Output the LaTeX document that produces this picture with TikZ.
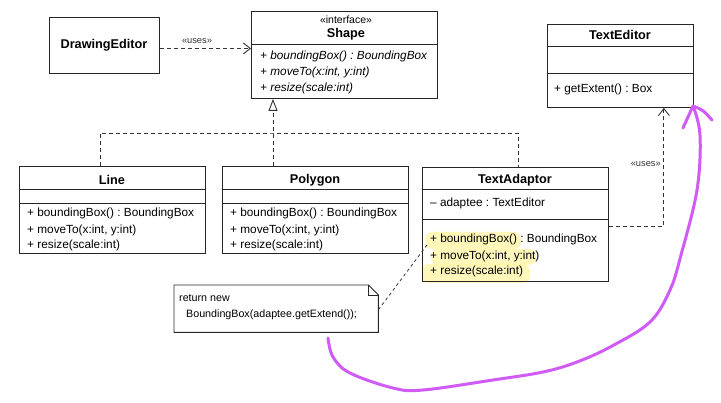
\documentclass[tikz,border=0pt]{standalone}
\usepackage{fontspec}
\setmainfont{Liberation Sans}
\usetikzlibrary{arrows.meta,calc}
\definecolor{pen}{RGB}{208,92,245}
\definecolor{hilite}{RGB}{255,244,150}
\frenchspacing
\tikzset{
  box/.style={draw=black!85, line width=0.9pt, inner sep=0pt, anchor=north west},
  sep/.style={draw=black!85, line width=0.9pt},
  ttl/.style={font=\fontsize{12.7}{14}\selectfont\bfseries, inner sep=0pt},
  mth/.style={font=\fontsize{11.8}{13}\selectfont, anchor=west, inner sep=0pt},
  imth/.style={mth, font=\fontsize{11.8}{13}\selectfont\itshape},
  stereo/.style={font=\fontsize{10.5}{12}\selectfont, inner sep=0pt},
  useslbl/.style={font=\fontsize{9.3}{11}\selectfont, inner sep=0pt, text=black!80},
  notetxt/.style={font=\fontsize{10.7}{12}\selectfont, anchor=west, inner sep=0pt},
  uses/.style={draw=black!80, line width=0.9pt, dash pattern=on 4pt off 3pt, -{Straight Barb[length=7pt,width=11pt,line width=0.9pt]}},
  realize/.style={draw=black!80, line width=0.9pt, dash pattern=on 4pt off 3pt},
  notelink/.style={draw=black!80, line width=0.8pt, dash pattern=on 3pt off 3pt},
  hl/.style={fill=hilite, fill opacity=0.65, draw=none, rounded corners=7pt},
  scribble/.style={draw=pen, line width=3pt, line cap=round, line join=round}
}
\begin{document}
\begin{tikzpicture}[x=1pt,y=-1pt]
\useasboundingbox[fill=white] (0,0) rectangle (721,403);

% highlights
\fill[hl] (425,232) rectangle (521,249);
\fill[hl] (431,249) rectangle (536,265);
\fill[hl] (422,264) rectangle (530,283);

% DrawingEditor
\node[box, minimum width=110pt, minimum height=56pt] (de) at (49,17) {};
\node[ttl] (deT) at (104,45) {DrawingEditor};

% Shape
\node[box, minimum width=186pt, minimum height=87pt] (shape) at (251,11) {};
\draw[sep] ([yshift=-33pt]shape.north west) -- ([yshift=-33pt]shape.north east);
\node[stereo] (shS) at (346,20) {«interface»};
\node[ttl] (shT) at (346,34) {Shape};
\node[imth] (sh1) at (260,56) {+ boundingBox() : BoundingBox};
\node[imth] (sh2) at (260,72) {+ moveTo(x:int, y:int)};
\node[imth] (sh3) at (260,88) {+ resize(scale:int)};

% TextEditor
\node[box, minimum width=146pt, minimum height=83pt] (te) at (547,24) {};
\draw[sep] ([yshift=-22pt]te.north west) -- ([yshift=-22pt]te.north east);
\draw[sep] ([yshift=-49pt]te.north west) -- ([yshift=-49pt]te.north east);
\node[ttl] (teT) at (620,35) {TextEditor};
\node[mth] (te1) at (554,89) {+ getExtent() : Box};

% Line
\node[box, minimum width=186pt, minimum height=87pt] (line) at (19,166) {};
\draw[sep] ([yshift=-23pt]line.north west) -- ([yshift=-23pt]line.north east);
\draw[sep] ([yshift=-37pt]line.north west) -- ([yshift=-37pt]line.north east);
\node[ttl] (lnT) at (112,180) {Line};
\node[mth] (ln1) at (27,213) {+ boundingBox() : BoundingBox};
\node[mth] (ln2) at (27,230) {+ moveTo(x:int, y:int)};
\node[mth] (ln3) at (27,245) {+ resize(scale:int)};

% Polygon
\node[box, minimum width=186pt, minimum height=87pt] (poly) at (222,166) {};
\draw[sep] ([yshift=-23pt]poly.north west) -- ([yshift=-23pt]poly.north east);
\draw[sep] ([yshift=-37pt]poly.north west) -- ([yshift=-37pt]poly.north east);
\node[ttl] (pgT) at (315,180) {Polygon};
\node[mth] (pg1) at (230,213) {+ boundingBox() : BoundingBox};
\node[mth] (pg2) at (230,230) {+ moveTo(x:int, y:int)};
\node[mth] (pg3) at (230,245) {+ resize(scale:int)};

% TextAdaptor
\node[box, minimum width=186pt, minimum height=114pt] (ta) at (422,167) {};
\draw[sep] ([yshift=-22pt]ta.north west) -- ([yshift=-22pt]ta.north east);
\draw[sep] ([yshift=-52pt]ta.north west) -- ([yshift=-52pt]ta.north east);
\node[ttl] (taT) at (515,180) {TextAdaptor};
\node[mth] (ta0) at (430,203) {– adaptee : TextEditor};
\node[mth] (ta1) at (430,239) {+ boundingBox() : BoundingBox};
\node[mth] (ta2) at (430,256) {+ moveTo(x:int, y:int)};
\node[mth] (ta3) at (430,271) {+ resize(scale:int)};

% Note
\node[inner sep=0pt, minimum width=204pt, minimum height=47pt, anchor=north west] (note) at (174,285) {};
\draw[sep] (note.north west) -- ([xshift=-10pt]note.north east) -- ([yshift=-10pt]note.north east) -- (note.south east) -- (note.south west) -- cycle;
\draw[sep, line width=0.7pt] ([xshift=-10pt]note.north east) -- ([xshift=-10pt,yshift=-10pt]note.north east) -- ([yshift=-10pt]note.north east);
\node[notetxt] (n1) at (179,298) {return new};
\node[notetxt] (n2) at (186,315) {BoundingBox(adaptee.getExtend());};

% connectors
\draw[uses] ([yshift=-3pt]de.east) -- ([yshift=-3pt]de.east -| shape.west);
\node[useslbl] (u1) at (197,41) {«uses»};

\coordinate (teIn) at ($(te.south east)+(-30,0)$);
\draw[uses] ([yshift=-2pt]ta.east) -| (teIn);
\node[useslbl, anchor=east] (u2) at (661,164) {«uses»};

\coordinate (j) at (273,133);
\draw[realize] ([xshift=-12pt]line.north) |- (j) -| ([xshift=3pt]ta.north);
\draw[realize, -{Triangle[open, length=12pt, width=9pt, line width=0.9pt]}] (poly.north -| j) -- (shape.south -| j);

\coordinate (hlp) at (427,245);
\draw[notelink] ([yshift=-1pt]note.east) -- (hlp);

% scribble
\draw[scribble] plot[smooth, tension=0.6] coordinates {(328,338) (333,357) (350,373) (393,388) (423,390) (493,380) (543,372) (577,362) (612,346) (650,322) (670,290) (681,255) (697,190) (700,135) (693,106)};
\draw[scribble] (683,128) -- (693,106) .. controls (703,110) .. (712,120);
\end{tikzpicture}
\end{document}
